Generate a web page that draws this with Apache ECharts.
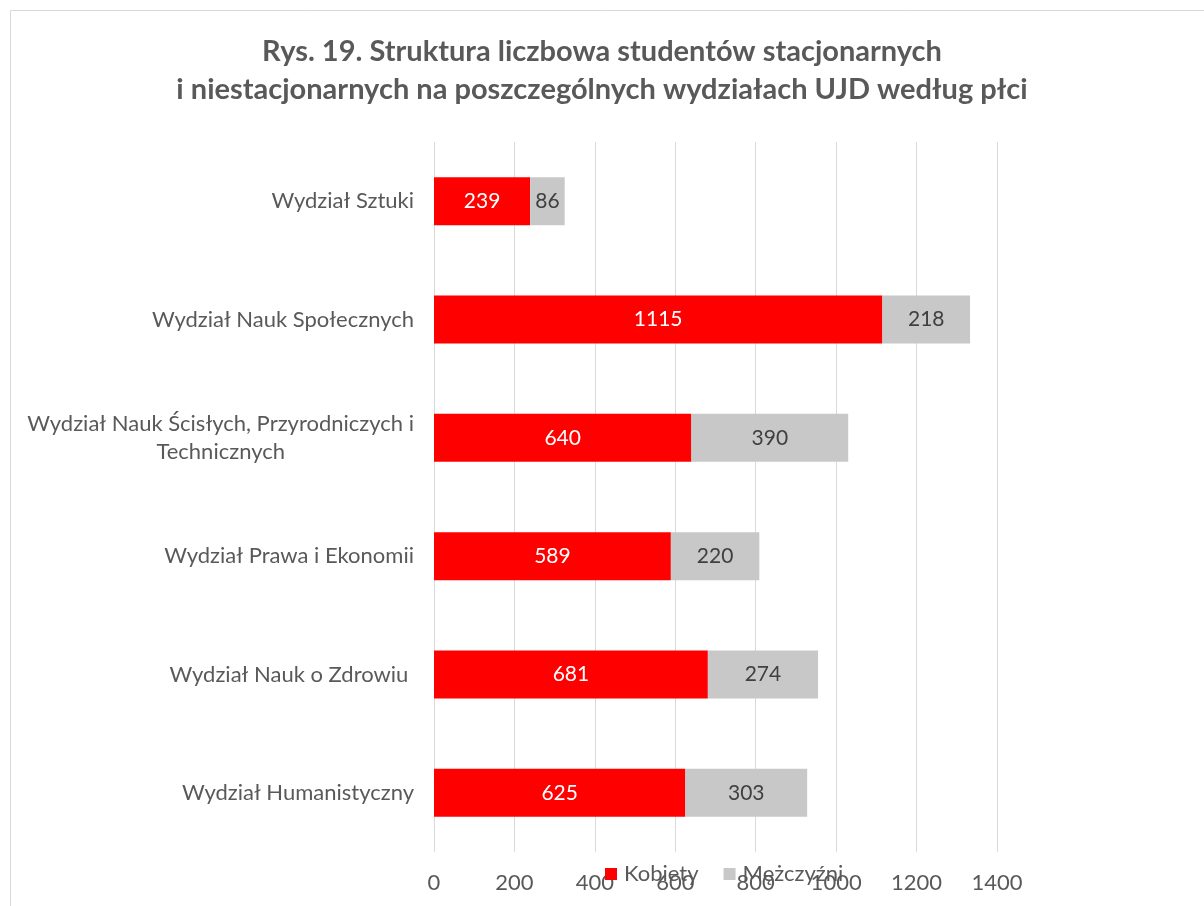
<!DOCTYPE html>
<html><head><meta charset="utf-8">
<script src="https://cdn.jsdelivr.net/npm/echarts@6/dist/echarts.min.js"></script>
<style>html,body{margin:0;padding:0;background:#fff}#c{width:1204px;height:906px}</style>
</head><body><div id="c"></div>
<script>
const titleText = "Rys. 19. Struktura liczbowa studentów stacjonarnych\ni niestacjonarnych na poszczególnych wydziałach UJD według płci";
const categories = ["Wydział Sztuki", "Wydział Nauk Społecznych", "Wydział Nauk Ścisłych, Przyrodniczych i\nTechnicznych", "Wydział Prawa i Ekonomii", "Wydział Nauk o Zdrowiu ", "Wydział Humanistyczny"];
const kobiety = [239, 1115, 640, 589, 681, 625];
const mezczyzni = [86, 218, 390, 220, 274, 303];
const seriesNames = ["Kobiety", "Mężczyźni"];
const xTicks = [0, 200, 400, 600, 800, 1000, 1200, 1400];

const FONT = "Lato";
const chart = echarts.init(document.getElementById('c'));
chart.setOption({
  animation: false,
  backgroundColor: '#fff',
  graphic: [{type:'rect', shape:{x:10.5,y:10.5,width:1200,height:900}, style:{fill:'none', stroke:'#d9d9d9', lineWidth:1}}],
  title: {
    text: titleText, left: 'center', top: 33, padding: [0, 0, 0, 18],
    textStyle: {fontFamily: FONT, fontSize: 29, fontWeight: 'bold', color: '#595959', lineHeight: 38}
  },
  legend: {
    data: seriesNames, left: 600, top: 858, itemWidth: 12, itemHeight: 12, itemGap: 25,
    icon: 'rect',
    textStyle: {fontFamily: FONT, fontSize: 22, color: '#595959', padding: [0, 0, 0, 2]}
  },
  grid: {left: 434, right: 207, top: 142, bottom: 54},
  xAxis: {
    type: 'value', min: 0, max: 1400, interval: 200,
    axisLine: {show: false}, axisTick: {show: false},
    splitLine: {lineStyle: {color: '#d9d9d9', width: 1}},
    axisLabel: {fontFamily: FONT, fontSize: 22, color: '#595959', margin: 20,
      formatter: v => xTicks.includes(v) ? String(v) : ''}
  },
  yAxis: {
    type: 'category', data: categories, inverse: true,
    axisLine: {show: false}, axisTick: {show: false},
    axisLabel: {fontFamily: FONT, fontSize: 22, color: '#595959', margin: 20, align: 'right', lineHeight: 28,
      formatter: v => v.split('\n').map(s => '{c|' + s + '}').join('\n'),
      rich: {c: {fontFamily: FONT, fontSize: 22, color: '#595959', align: 'center', lineHeight: 28}}}
  },
  series: [
    {name: seriesNames[0], type: 'bar', stack: 't', data: kobiety, barWidth: 48,
     itemStyle: {color: '#ff0000'},
     label: {show: true, position: 'inside', fontFamily: FONT, fontSize: 21, color: '#ffffff'}},
    {name: seriesNames[1], type: 'bar', stack: 't', data: mezczyzni, barWidth: 48,
     itemStyle: {color: '#c8c8c8'},
     label: {show: true, position: 'inside', fontFamily: FONT, fontSize: 21, color: '#404040'}}
  ]
});
</script></body></html>
